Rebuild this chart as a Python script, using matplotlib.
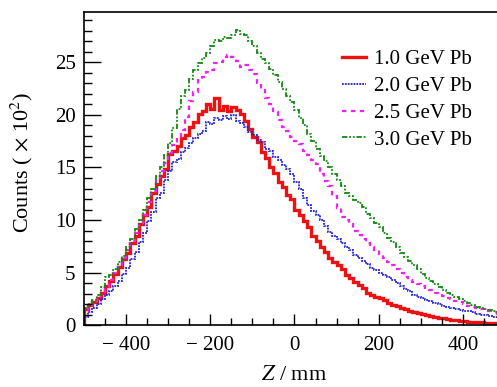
import numpy as np
import matplotlib
matplotlib.use('Agg')
import matplotlib.pyplot as plt
from matplotlib.ticker import MultipleLocator, FuncFormatter

# bin edges in mm (10 mm bins), counts in units of 10^2
edges = np.arange(-500, 501, 10)

red_1p0 = [1.5, 1.9, 2.2, 2.6, 3.1, 3.7, 4.2, 4.9, 5.5, 6.3,
           6.9, 7.8, 8.5, 9.6, 10.5, 11.2, 12.6, 13.4, 14.2, 14.9,
           16.3, 16.6, 17.0, 17.8, 18.1, 18.9, 19.3, 20.1, 20.4, 21.0,
           20.6, 21.6, 20.5, 20.9, 20.4, 20.8, 20.5, 20.1, 19.4, 18.7,
           17.9, 17.4, 16.5, 15.9, 15.0, 14.5, 13.6, 13.1, 12.4, 12.0,
           11.0, 10.5, 9.9, 9.3, 8.5, 8.0, 7.4, 7.0, 6.4, 6.0,
           5.7, 5.3, 4.8, 4.5, 4.1, 3.8, 3.5, 3.1, 2.9, 2.7,
           2.6, 2.4, 2.1, 1.9, 1.8, 1.6, 1.5, 1.35, 1.25, 1.15,
           1.05, 0.95, 0.9, 0.8, 0.72, 0.65, 0.57, 0.52, 0.46, 0.42,
           0.38, 0.34, 0.31, 0.28, 0.25, 0.22, 0.2, 0.18, 0.16, 0.14]
blue_2p0 = [0.8, 1.2, 1.6, 2.0, 2.5, 2.9, 3.2, 3.7, 4.2, 4.9,
            5.4, 6.3, 7.0, 7.9, 8.8, 9.9, 10.8, 12.1, 12.6, 13.8,
            14.7, 15.5, 15.8, 16.5, 16.9, 17.3, 17.8, 18.2, 18.5, 19.3,
            19.1, 19.7, 19.5, 19.9, 19.6, 20.0, 19.4, 19.2, 18.9, 18.4,
            18.1, 17.6, 17.4, 16.8, 16.6, 16.0, 15.7, 15.2, 14.9, 14.4,
            13.6, 13.0, 12.1, 11.4, 10.9, 10.5, 10.0, 9.4, 8.9, 8.5,
            8.2, 7.8, 7.4, 7.1, 6.7, 6.4, 6.1, 5.8, 5.4, 5.2,
            5.0, 4.8, 4.6, 4.3, 4.0, 3.7, 3.4, 3.2, 2.9, 2.7,
            2.6, 2.4, 2.3, 2.1, 2.0, 1.85, 1.75, 1.65, 1.55, 1.45,
            1.35, 1.3, 1.2, 1.1, 1.0, 0.95, 0.85, 0.8, 0.7, 0.65]
mag_2p5 = [1.3, 1.7, 2.1, 2.6, 3.1, 3.6, 4.3, 5.0, 5.7, 6.4,
           7.1, 8.0, 8.8, 9.7, 10.5, 11.7, 12.8, 13.9, 14.7, 15.4,
           16.4, 17.1, 17.9, 18.6, 19.8, 21.3, 22.2, 23.3, 23.6, 24.1,
           24.3, 24.9, 25.0, 25.5, 25.7, 25.5, 25.1, 24.6, 24.8, 24.3,
           23.9, 23.0, 22.4, 21.6, 21.0, 20.3, 19.5, 18.9, 18.5, 17.9,
           17.5, 17.2, 16.6, 16.2, 15.7, 15.3, 14.4, 13.7, 13.2, 12.3,
           11.1, 10.3, 10.0, 9.6, 9.0, 8.6, 8.2, 7.8, 7.4, 7.1,
           6.8, 6.4, 6.0, 5.7, 5.3, 5.0, 4.6, 4.3, 4.1, 3.9,
           3.7, 3.5, 3.3, 3.1, 2.95, 2.8, 2.6, 2.45, 2.3, 2.15,
           2.0, 1.85, 1.7, 1.6, 1.5, 1.4, 1.3, 1.2, 1.1, 1.05]
green_3p0 = [1.6, 2.0, 2.4, 2.9, 3.6, 4.6, 4.8, 5.3, 6.0, 6.6,
             7.4, 8.2, 9.1, 10.0, 11.0, 12.1, 13.0, 14.2, 15.0, 16.2,
             17.3, 18.8, 20.6, 21.8, 22.4, 23.4, 24.3, 24.9, 25.4, 25.9,
             26.6, 27.1, 27.0, 27.4, 27.3, 27.6, 28.1, 27.7, 27.6, 27.0,
             26.6, 25.9, 25.3, 24.9, 24.4, 23.8, 23.1, 22.5, 21.8, 21.2,
             20.5, 19.7, 19.0, 18.2, 17.5, 16.8, 16.1, 15.6, 15.0, 14.4,
             13.8, 13.2, 12.6, 12.3, 11.9, 11.6, 11.2, 10.6, 10.2, 9.7,
             9.3, 8.8, 8.3, 7.9, 7.4, 6.9, 6.5, 6.1, 5.7, 5.3,
             4.9, 4.5, 4.2, 3.9, 3.6, 3.3, 3.1, 2.9, 2.7, 2.5,
             2.3, 2.1, 1.9, 1.75, 1.6, 1.5, 1.4, 1.3, 1.2, 1.1]

labels = ['1.0 GeV Pb', '2.0 GeV Pb', '2.5 GeV Pb', '3.0 GeV Pb']

plt.rcParams['font.family'] = ['Liberation Serif', 'DejaVu Serif']
plt.rcParams['mathtext.fontset'] = 'stix'

fig = plt.figure(figsize=(4.97, 3.87), dpi=100)
ax = fig.add_axes([0.169, 0.160, 0.847, 0.809])

ax.stairs(red_1p0, edges, color='#ee1111', lw=2.4, label=labels[0])
ax.stairs(blue_2p0, edges, color='#2222dd', lw=1.3, linestyle=(0, (1, 0.6)), label=labels[1])
ax.stairs(mag_2p5, edges, color='#ee22ee', lw=1.6, linestyle=(0, (2, 2)), label=labels[2])
ax.stairs(green_3p0, edges, color='#118811', lw=1.3, linestyle=(0, (3, 1, 1, 1, 1, 1)), label=labels[3])

ax.set_xlim(-500, 500)
ax.set_ylim(0, 29.8)
ax.xaxis.set_major_locator(MultipleLocator(200))
ax.xaxis.set_minor_locator(MultipleLocator(50))
ax.yaxis.set_major_locator(MultipleLocator(5))
ax.yaxis.set_minor_locator(MultipleLocator(1))
ax.xaxis.set_major_formatter(FuncFormatter(lambda v, p: ('\u2212 %d' % -v) if v < 0 else '%d' % v))
ax.tick_params(which='both', direction='in', top=False, right=False, labelsize=15, width=1)
ax.tick_params(axis='y', which='major', length=12, pad=6)
ax.tick_params(axis='y', which='minor', length=6)
ax.tick_params(axis='x', which='major', length=8, pad=8)
ax.tick_params(axis='x', which='minor', length=5)
for s in ax.spines.values():
    s.set_linewidth(1.2)

ax.set_xlabel('$Z$ / mm', fontsize=16, labelpad=8)
ax.set_ylabel('Counts ( $\\times$ 10$^2$)', fontsize=16, va='center')
ax.yaxis.set_label_coords(-0.147, 0.52)

leg = ax.legend(loc='upper left', bbox_to_anchor=(0.612, 0.88), frameon=False, fontsize=15,
                handlelength=1.15, handletextpad=0.4, labelspacing=0.35,
                borderpad=0, borderaxespad=0)

fig.savefig('out.png', dpi=100)
